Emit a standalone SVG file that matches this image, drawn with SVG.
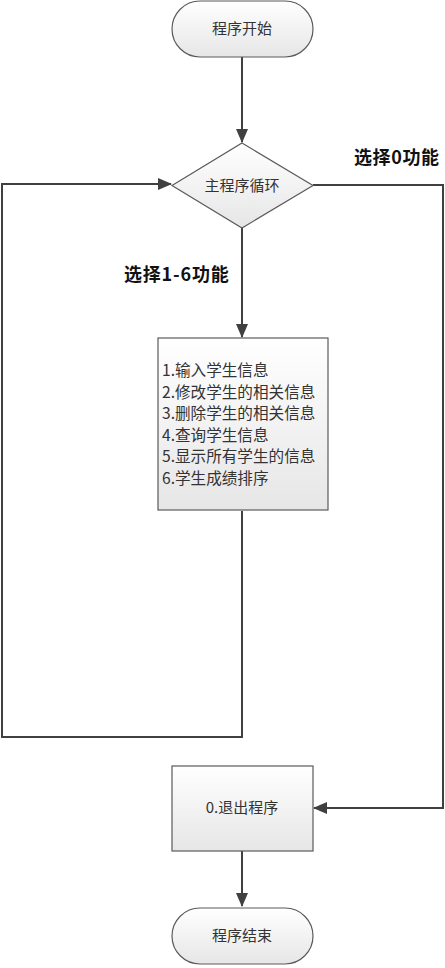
<svg xmlns="http://www.w3.org/2000/svg" width="445" height="968" viewBox="0 0 445 968">
<defs>
<linearGradient id="g" x1="0" y1="0" x2="0" y2="1">
<stop offset="0" stop-color="#ffffff"/>
<stop offset="1" stop-color="#e6e6e6"/>
</linearGradient>
<marker id="ah" markerWidth="14" markerHeight="12" refX="13" refY="6" orient="auto" markerUnits="userSpaceOnUse">
<path d="M0,0 L14,6 L0,12 Z" fill="#404040"/>
</marker>
<style>
.node{fill:url(#g);stroke:#5a5a5a;stroke-width:1.2}
.t{font-family:"Noto Sans CJK SC","Liberation Sans",sans-serif;font-size:15px;fill:#333}
.m{font-size:15.6px}
.lbl{font-family:"Noto Sans CJK SC","Liberation Sans",sans-serif;font-size:18px;font-weight:bold;fill:#111}
.c{fill:none;stroke:#404040;stroke-width:2}
</style>
</defs>
<rect width="445" height="968" fill="#ffffff"/>
<g id="connectors">
<path class="c" d="M242,57 L242,142" marker-end="url(#ah)"/>
<path class="c" d="M242,228 L242,337" marker-end="url(#ah)"/>
<path class="c" d="M242,511 L242,737 L2,737 L2,184 L171,184" marker-end="url(#ah)"/>
<path class="c" d="M313,185 L443,185 L443,808 L314,808" marker-end="url(#ah)"/>
<path class="c" d="M242,851 L242,906" marker-end="url(#ah)"/>
</g>
<g id="label0"><text class="lbl" x="354" y="164" letter-spacing="0.6">选择0功能</text></g>
<g id="label16"><text class="lbl" x="124" y="281" letter-spacing="0.8">选择1-6功能</text></g>
<g id="start">
<rect class="node" x="172" y="1" width="141" height="56" rx="28" ry="28"/>
<text class="t" x="242" y="34" text-anchor="middle">程序开始</text>
</g>
<g id="loop">
<path class="node" d="M242,143 L313,185.5 L242,228 L172,185.5 Z"/>
<text class="t" x="242" y="191" text-anchor="middle">主程序循环</text>
</g>
<g id="menu">
<rect class="node" x="158" y="338" width="170" height="172"/>
<text class="t m" x="162" y="376">1.输入学生信息</text>
<text class="t m" x="162" y="397.5">2.修改学生的相关信息</text>
<text class="t m" x="162" y="419">3.删除学生的相关信息</text>
<text class="t m" x="162" y="440.5">4.查询学生信息</text>
<text class="t m" x="162" y="462">5.显示所有学生的信息</text>
<text class="t m" x="162" y="483.5">6.学生成绩排序</text>
</g>
<g id="exit">
<rect class="node" x="172" y="766" width="141" height="85"/>
<text class="t" x="242" y="813" text-anchor="middle">0.退出程序</text>
</g>
<g id="end">
<rect class="node" x="172" y="908" width="141" height="56" rx="28" ry="28"/>
<text class="t" x="242" y="941" text-anchor="middle">程序结束</text>
</g>
</svg>
